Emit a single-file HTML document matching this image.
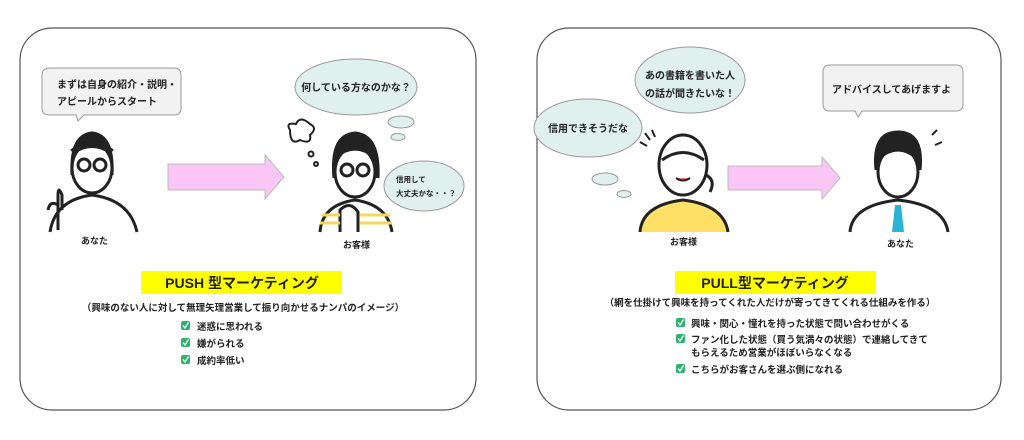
<!DOCTYPE html>
<html><head><meta charset="utf-8"><style>
body{margin:0;width:1024px;height:435px;background:#fff;overflow:hidden}
svg text{font-family:"Liberation Sans","Noto Sans CJK JP",sans-serif;font-weight:bold;fill:#222}
</style></head><body>
<svg width="1024" height="435" viewBox="0 0 1024 435">
<defs><g id="ck"><rect width="9" height="9" rx="2" fill="#2db36e"/><path d="M2 4.5 L4 7 L7.5 1.5" stroke="#fff" stroke-width="1.3" fill="none"/></g></defs>
<rect x="20" y="28" width="456" height="382" rx="32" fill="#fff" stroke="#555" stroke-width="1.2"/>
<rect x="537" y="28" width="464" height="382" rx="32" fill="#fff" stroke="#555" stroke-width="1.2"/>

<!-- LEFT -->
<path d="M50 68 H174 Q181 68 181 75 V108 Q181 115 174 115 H84 L78 121 L76 115 H50 Q42 115 42 108 V75 Q42 68 50 68Z" fill="#f2f2f2" stroke="#999"/>
<text x="57" y="88" font-size="10">まずは自身の紹介・説明・</text>
<text x="57" y="105" font-size="10">アピールからスタート</text>
<g stroke="#222" stroke-width="3" fill="none">
<path d="M72 175 Q70 135 92 133 Q114 135 112 175" fill="#222"/>
<ellipse cx="92" cy="168" rx="20" ry="25" fill="#fff"/>
<path d="M72 152 Q92 138 112 152" stroke-width="6"/>
<circle cx="84" cy="165" r="6"/><circle cx="100" cy="165" r="6"/>
<path d="M50 232 Q55 200 92 195 Q130 200 137 232"/>
<path d="M58 230 V195 M58 195 Q58 185 62 195 V210 M48 210 Q50 200 58 205"/>
</g>
<path d="M168 164 H265 V155 L284 177 L265 199 V190 H168Z" fill="#f9c6f5" stroke="#bbb"/>
<text x="81" y="244" font-size="9">あなた</text>
<ellipse cx="356" cy="87" rx="61" ry="28" fill="#dff0ef" stroke="#999"/>
<text x="356" y="91" font-size="10" text-anchor="middle">何している方なのかな？</text>
<ellipse cx="401" cy="122" rx="13" ry="6" fill="#dff0ef" stroke="#999"/>
<ellipse cx="398" cy="137" rx="7" ry="3.5" fill="#dff0ef" stroke="#999"/>
<ellipse cx="424" cy="186" rx="40" ry="25" fill="#dff0ef" stroke="#999"/>
<text x="396" y="182" font-size="7.5">信用して</text>
<text x="396" y="196" font-size="7.5">大丈夫かな・・？</text>
<path d="M290 130 Q285 122 296 124 Q300 115 310 124 Q318 128 310 135 Q312 145 300 140 Q290 146 290 130Z" fill="none" stroke="#222" stroke-width="2"/>
<circle cx="311" cy="154" r="2.5" fill="none" stroke="#222" stroke-width="2"/>
<circle cx="316" cy="164" r="2" fill="none" stroke="#222" stroke-width="2"/>
<g stroke="#222" stroke-width="3" fill="none">
<path d="M334 178 Q330 135 355 133 Q380 135 378 178" fill="#222"/>
<ellipse cx="355" cy="172" rx="20" ry="25" fill="#fff"/>
<path d="M336 155 Q355 140 374 155" stroke-width="6"/>
<circle cx="347" cy="170" r="6"/><circle cx="363" cy="170" r="6"/>
<path d="M320 232 Q322 205 355 200 Q388 205 392 232" fill="#fff"/>
<path d="M340 232 V210 Q350 200 358 212 V232"/>
</g>
<path d="M322 215 H340 M320 223 H340 M360 215 H390 M360 223 H392" stroke="#f5d75a" stroke-width="3"/>
<text x="343" y="248" font-size="9">お客様</text>
<rect x="141" y="271" width="201" height="23" fill="#ffff00"/>
<text x="242" y="288" font-size="14" text-anchor="middle">PUSH 型マーケティング</text>
<text x="243" y="311" font-size="9.5" text-anchor="middle" font-weight="normal">（興味のない人に対して無理矢理営業して振り向かせるナンパのイメージ）</text>
<g font-size="9.5">
<use href="#ck" x="181" y="321"/><text x="197" y="330">迷惑に思われる</text>
<use href="#ck" x="181" y="338"/><text x="197" y="347">嫌がられる</text>
<use href="#ck" x="181" y="355"/><text x="197" y="364">成約率低い</text>
</g>

<!-- RIGHT -->
<ellipse cx="690" cy="80" rx="55" ry="33" fill="#dff0ef" stroke="#999"/>
<text x="690" y="79" font-size="10" text-anchor="middle">あの書籍を書いた人</text>
<text x="690" y="97" font-size="10" text-anchor="middle">の話が聞きたいな！</text>
<ellipse cx="588" cy="128" rx="54" ry="29" fill="#dff0ef" stroke="#999"/>
<text x="588" y="132" font-size="10" text-anchor="middle">信用できそうだな</text>
<ellipse cx="605" cy="179" rx="13" ry="6" fill="#dff0ef" stroke="#999"/>
<ellipse cx="624" cy="194" rx="7" ry="3.5" fill="#dff0ef" stroke="#999"/>
<path d="M823 72 Q823 65 830 65 H956 Q963 65 963 72 V104 Q963 111 956 111 H862 L858 117 L855 111 H830 Q823 111 823 104Z" fill="#f2f2f2" stroke="#999"/>
<text x="832" y="93" font-size="10">アドバイスしてあげますよ</text>
<g stroke="#222" stroke-width="3" fill="none">
<ellipse cx="683" cy="165" rx="24" ry="30" fill="#fff"/>
<path d="M662 160 Q683 145 704 160"/>
<path d="M640 232 Q642 205 683 200 Q724 205 728 232" fill="#ffe066"/>
<path d="M640 142 L647 146 M645 133 L650 140 M652 130 L655 137" stroke-width="2"/>
<path d="M706 175 Q716 180 710 192"/>
</g>
<path d="M728 166 H822 V157 L840 178 L822 199 V190 H728Z" fill="#f9c6f5" stroke="#bbb"/>
<g stroke="#222" stroke-width="3" fill="none">
<path d="M876 170 Q872 132 898 132 Q924 132 920 170" fill="#222"/>
<ellipse cx="898" cy="172" rx="20" ry="25" fill="#fff"/>
<path d="M878 158 Q898 140 918 158" stroke-width="5"/>
<path d="M850 232 Q852 205 898 200 Q944 205 948 232"/>
<path d="M932 135 L937 130 M935 145 L942 142" stroke-width="2"/>
</g>
<path d="M895 205 L901 205 L904 232 L892 232Z" fill="#2ab3d6"/>
<text x="670" y="245" font-size="9">お客様</text>
<text x="887" y="247" font-size="9">あなた</text>
<rect x="675" y="271" width="201" height="23" fill="#ffff00"/>
<text x="775" y="288" font-size="14" text-anchor="middle">PULL型マーケティング</text>
<text x="770" y="306" font-size="9.5" text-anchor="middle" font-weight="normal">（網を仕掛けて興味を持ってくれた人だけが寄ってきてくれる仕組みを作る）</text>
<g font-size="9.5">
<use href="#ck" x="676" y="318"/><text x="691" y="327">興味・関心・憧れを持った状態で問い合わせがくる</text>
<use href="#ck" x="676" y="334"/><text x="691" y="343">ファン化した状態（買う気満々の状態）で連絡してきて</text>
<text x="691" y="356">もらえるため営業がほぼいらなくなる</text>
<use href="#ck" x="676" y="364"/><text x="691" y="373">こちらがお客さんを選ぶ側になれる</text>
</g>
<path d="M676 178 Q683 183 690 178" stroke="#222" stroke-width="2" fill="#f77"/>
</svg>
</body></html>
